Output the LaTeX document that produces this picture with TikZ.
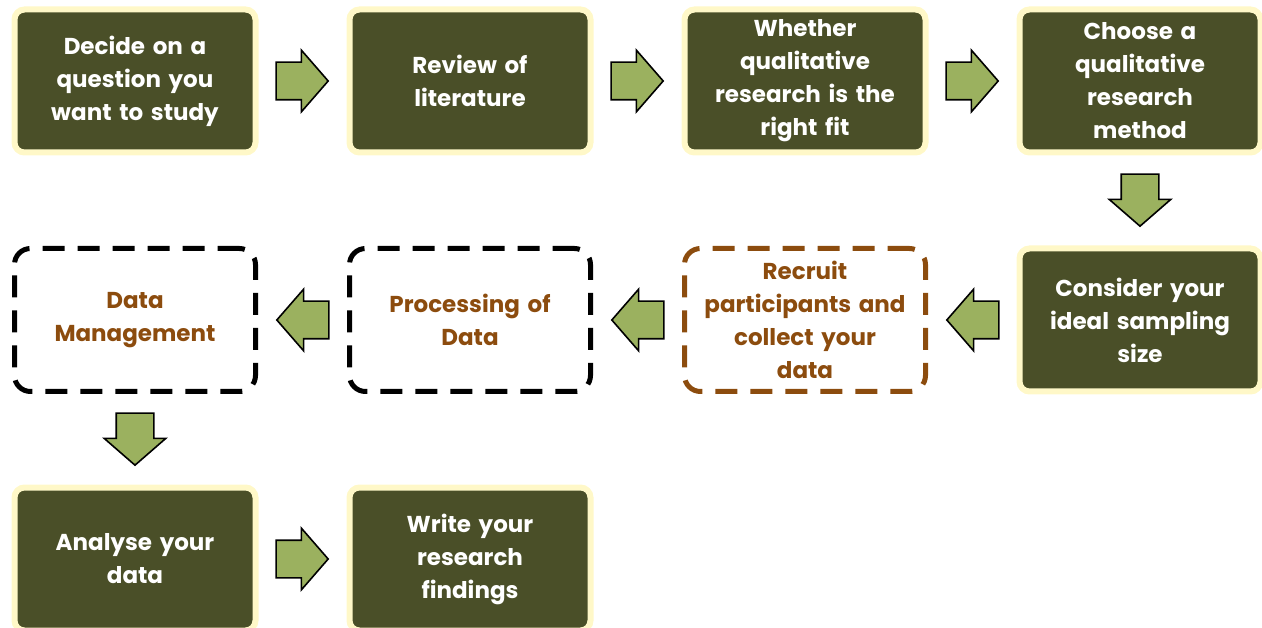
\documentclass[tikz,border=0pt]{standalone}
\usepackage{fontspec}
\setmainfont{Poppins}
\usetikzlibrary{positioning,calc,shapes.arrows}
\definecolor{boxolive}{HTML}{4A4F28}
\definecolor{glowyellow}{HTML}{FFF8C8}
\definecolor{arrowgreen}{HTML}{9BB15F}
\definecolor{textbrown}{HTML}{8C4C0E}
\tikzset{
  stepbox/.style={rectangle, rounded corners=10pt, fill=boxolive,
        draw=glowyellow, line width=6pt, text=white, outer sep=0pt,
        minimum width=241pt, minimum height=143pt, text width=215pt,
        align=center, font=\fontsize{23}{33}\selectfont\bfseries},
  openbox/.style={stepbox, fill=none, draw=black, line width=5pt,
        rounded corners=16pt, dash pattern=on 22pt off 13pt,
        text=textbrown},
  flowarrow/.style={single arrow, draw=black, fill=arrowgreen,
        line width=1.6pt, minimum height=52pt,
        single arrow head extend=12pt, single arrow tip angle=98,
        inner xsep=0pt, inner ysep=18pt, outer sep=0pt,
        rotate=#1, xshift=-8.5pt},
  flowarrow/.default=0
}

\begin{document}
\begin{tikzpicture}[x=1pt, y=-1pt, node distance=96pt and 94pt]
        \useasboundingbox (0,0) rectangle (1262,628);

        % first row
        \node[stepbox] (ask) at (135,81) {Decide on a\\question you\\want to study};
        \node[stepbox, right=of ask] (review) {Review of\\literature};
        \node[stepbox, right=of review] (fit) {Whether\\qualitative\\research is the\\right fit};
        \node[stepbox, right=of fit] (method) {Choose a\\qualitative\\research\\method};

        % second row, right to left
        \node[stepbox, below=of method] (sample) {Consider your\\ideal sampling\\size};
        \node[openbox, draw=textbrown, left=of sample] (recruit)
            {Recruit\\participants and\\collect your\\data};
        \node[openbox, left=of recruit] (process) {Processing of\\Data};
        \node[openbox, left=of process] (manage) {Data\\Management};

        % last row
        \node[stepbox, below=of manage] (analyse) {Analyse your\\data};
        \node[stepbox, right=of analyse] (write) {Write your\\research\\findings};

        \node[flowarrow] (a1) at ($(ask)!0.5!(review)$) {};
        \node[flowarrow] (a2) at ($(review)!0.5!(fit)$) {};
        \node[flowarrow] (a3) at ($(fit)!0.5!(method)$) {};
        \node[flowarrow=-90] (a4) at ($(method)!0.5!(sample)$) {};
        \node[flowarrow=180] (a5) at ($(sample)!0.5!(recruit)$) {};
        \node[flowarrow=180] (a6) at ($(recruit)!0.5!(process)$) {};
        \node[flowarrow=180] (a7) at ($(process)!0.5!(manage)$) {};
        \node[flowarrow=-90] (a8) at ($(manage)!0.5!(analyse)$) {};
        \node[flowarrow] (a9) at ($(analyse)!0.5!(write)$) {};
    \end{tikzpicture}
\end{document}
